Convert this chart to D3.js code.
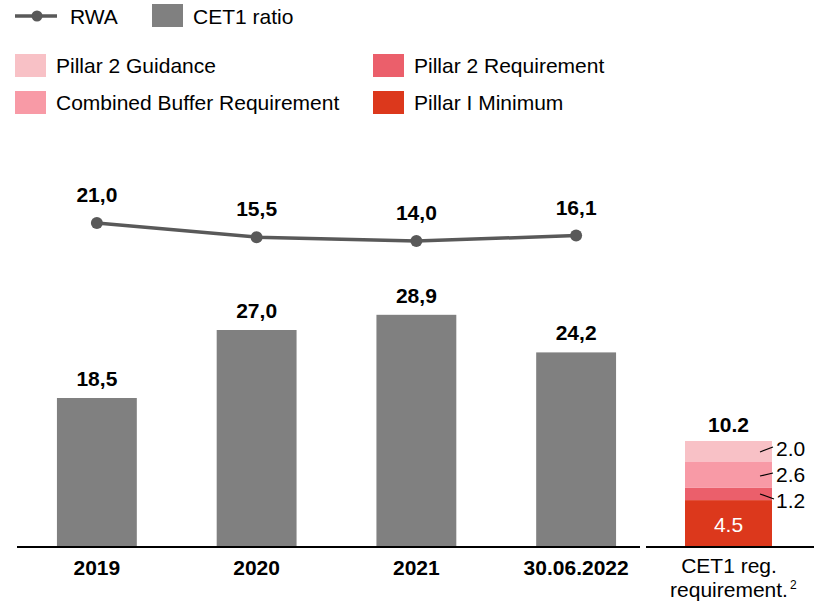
<!DOCTYPE html>
<html>
<head>
<meta charset="utf-8">
<script src="https://cdn.jsdelivr.net/npm/d3@7"></script>
<style>
  body { margin: 0; background: #fff; }
  svg { font-family: Arial, "Liberation Sans", sans-serif; }
</style>
</head>
<body>
<svg id="chart" width="821" height="604"></svg>
<script>
// data
const years = ["2019", "2020", "2021", "30.06.2022"];
const cet1Ratio = [18.5, 27.0, 28.9, 24.2];
const rwa = [21.0, 15.5, 14.0, 16.1];
const reqParts = ["Pillar I Minimum", "Pillar 2 Requirement", "Combined Buffer Requirement", "Pillar 2 Guidance"];
const reqValues = [4.5, 1.2, 2.6, 2.0];
const reqTotal = "10.2";

const colors = {
  "Pillar 2 Guidance": "#f8c1c6",
  "Combined Buffer Requirement": "#f89aa6",
  "Pillar 2 Requirement": "#eb5f6b",
  "Pillar I Minimum": "#dc381c"
};
const grey = "#808080";
const lineCol = "#595959";

const svg = d3.select("#chart");
const base = 546;

// comma decimals
const fmt = v => d3.format(".1f")(v).replace(".", ",");

// scales
const x = d3.scaleBand().domain(years).range([17, 656]).paddingInner(0.5).paddingOuter(0.25);
const y = d3.scaleLinear().domain([0, 28.9]).range([base, base - 231.2]);
const yLine = d3.scaleLinear().domain([14, 21]).range([241, 223]);

// bars
svg.selectAll(".bar")
  .data(years)
  .enter()
  .append("rect")
  .attr("class", "bar")
  .attr("x", d => x(d))
  .attr("width", x.bandwidth())
  .attr("y", (d, i) => y(cet1Ratio[i]))
  .attr("height", (d, i) => base - y(cet1Ratio[i]))
  .attr("fill", grey);

svg.selectAll(".bar-label")
  .data(years)
  .enter()
  .append("text")
  .attr("x", d => x(d) + x.bandwidth() / 2)
  .attr("y", (d, i) => y(cet1Ratio[i]) - 12)
  .attr("text-anchor", "middle")
  .style("font-size", "21px")
  .style("font-weight", "bold")
  .text((d, i) => fmt(cet1Ratio[i]));

// rwa line
const line = d3.line()
  .x((d, i) => x(years[i]) + x.bandwidth() / 2)
  .y(d => yLine(d));

svg.append("path")
  .datum(rwa)
  .attr("d", line)
  .attr("fill", "none")
  .attr("stroke", lineCol)
  .attr("stroke-width", 3.5);

svg.selectAll(".dot")
  .data(rwa)
  .enter()
  .append("circle")
  .attr("cx", (d, i) => x(years[i]) + x.bandwidth() / 2)
  .attr("cy", d => yLine(d))
  .attr("r", 6)
  .attr("fill", lineCol);

svg.selectAll(".line-label")
  .data(rwa)
  .enter()
  .append("text")
  .attr("x", (d, i) => x(years[i]) + x.bandwidth() / 2)
  .attr("y", d => yLine(d) - 21)
  .attr("text-anchor", "middle")
  .style("font-size", "21px")
  .style("font-weight", "bold")
  .text(d => fmt(d));

// x axis
const xAxis = svg.append("g")
  .attr("transform", `translate(0,${base})`)
  .call(d3.axisBottom(x).tickSize(0).tickPadding(14));
xAxis.select(".domain").remove();
xAxis.selectAll("text")
  .attr("dy", null)
  .attr("y", 29)
  .style("font-family", "Arial, 'Liberation Sans', sans-serif")
  .style("font-size", "21px")
  .style("font-weight", "bold")
  .attr("fill", "#000");

svg.append("line")
  .attr("x1", 17).attr("x2", 640)
  .attr("y1", base + 1).attr("y2", base + 1)
  .attr("stroke", "#000").attr("stroke-width", 2);
svg.append("line")
  .attr("x1", 646).attr("x2", 814)
  .attr("y1", base + 1).attr("y2", base + 1)
  .attr("stroke", "#000").attr("stroke-width", 2);

// requirement stack
const yReq = d3.scaleLinear().domain([0, 10.2]).range([base, 442]);
const reqX = 685, reqW = 87;
let cum = 0;
const stack = reqValues.map((v, i) => {
  const s = { key: reqParts[i], v, y0: cum, y1: cum + v };
  cum += v;
  return s;
});

svg.selectAll(".seg")
  .data(stack)
  .enter()
  .append("rect")
  .attr("x", reqX)
  .attr("width", reqW)
  .attr("y", d => yReq(d.y1))
  .attr("height", d => yReq(d.y0) - yReq(d.y1))
  .attr("fill", d => colors[d.key]);

svg.append("text")
  .attr("x", reqX + reqW / 2)
  .attr("y", 532)
  .attr("text-anchor", "middle")
  .attr("fill", "#fff")
  .style("font-size", "21px")
  .text(d3.format(".1f")(stack[0].v));

// outside labels with leader lines
const outLabels = [
  { seg: stack[1], ty: 508, l: [760, 494, 774, 499] },
  { seg: stack[2], ty: 482, l: [760, 476, 773, 473] },
  { seg: stack[3], ty: 456, l: [760, 452, 773, 447] }
];
outLabels.forEach(o => {
  svg.append("line")
    .attr("x1", o.l[0]).attr("y1", o.l[1])
    .attr("x2", o.l[2]).attr("y2", o.l[3])
    .attr("stroke", "#000").attr("stroke-width", 1.2);
  svg.append("text")
    .attr("x", 776)
    .attr("y", o.ty)
    .style("font-size", "21px")
    .text(d3.format(".1f")(o.seg.v));
});

svg.append("text")
  .attr("x", reqX + reqW / 2)
  .attr("y", 432)
  .attr("text-anchor", "middle")
  .style("font-size", "21px")
  .style("font-weight", "bold")
  .text(reqTotal);

const reqText = svg.append("text")
  .attr("text-anchor", "middle")
  .style("font-size", "21px");
reqText.append("tspan").attr("x", 729).attr("y", 573).text("CET1 reg.");
reqText.append("tspan").attr("x", 729).attr("y", 597).text("requirement.");
svg.append("text")
  .attr("x", 790).attr("y", 589)
  .style("font-size", "12px")
  .text("2");

// legend
const lg = svg.append("g");
lg.append("line").attr("x1", 15).attr("x2", 57).attr("y1", 16).attr("y2", 16)
  .attr("stroke", lineCol).attr("stroke-width", 3.5);
lg.append("circle").attr("cx", 37).attr("cy", 16).attr("r", 5.5).attr("fill", lineCol);
lg.append("text").attr("x", 70).attr("y", 24).style("font-size", "21px").text("RWA");
lg.append("rect").attr("x", 152).attr("y", 4).attr("width", 31).attr("height", 23).attr("fill", grey);
lg.append("text").attr("x", 193).attr("y", 24).style("font-size", "21px").text("CET1 ratio");

const legendItems = [
  { key: "Pillar 2 Guidance", x: 15, y: 54 },
  { key: "Pillar 2 Requirement", x: 373, y: 54 },
  { key: "Combined Buffer Requirement", x: 15, y: 91 },
  { key: "Pillar I Minimum", x: 373, y: 91 }
];
legendItems.forEach(d => {
  lg.append("rect").attr("x", d.x).attr("y", d.y).attr("width", 31).attr("height", 23)
    .attr("fill", colors[d.key]);
  lg.append("text").attr("x", d.x + 41).attr("y", d.y + 19)
    .style("font-size", "21px").text(d.key);
});
</script>
</body>
</html>
